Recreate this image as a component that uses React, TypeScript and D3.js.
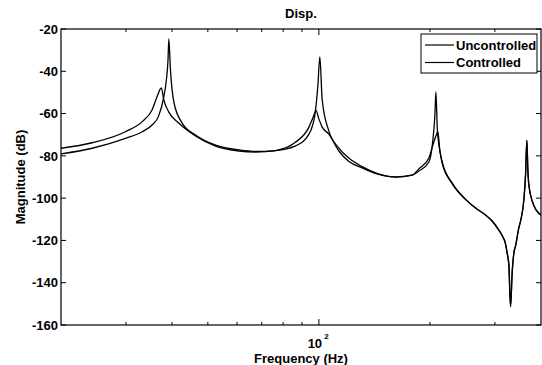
import * as d3 from "d3"

// Bode magnitude: [frequency Hz, magnitude dB]
const sharedTail: [number, number][] = [
  [249.8, -100.6], [266.0, -104.7], [283.0, -108.0], [294.9, -110.8],
  [307.4, -115.1], [313.8, -117.7], [320.6, -121.7], [323.8, -125.9],
  [327.3, -131.6], [330.8, -151.3], [334.1, -135.4], [337.7, -125.9],
  [341.3, -122.6], [348.3, -114.1], [352.7, -110.3], [359.4, -100.9],
  [363.2, -89.1], [366.2, -72.7], [368.5, -86.7], [370.8, -93.8],
  [382.6, -103.5], [400, -108.0],
]

const uncontrolled: [number, number][] = [
  [20, -79.1], [24.3, -76.4], [29.9, -71.7], [33.2, -68.6], [35.3, -65.4],
  [36.8, -61.1], [38.0, -52.0], [38.6, -44.1], [39.0, -34.7], [39.2, -24.7],
  [39.6, -39.4], [40.5, -55.0], [42.6, -64.5], [46.3, -70.1], [52.5, -74.9],
  [60.7, -77.2], [67.5, -77.9], [76.3, -77.5], [86.5, -75.3], [94.0, -69.7],
  [97.5, -60.7], [99.4, -46.5], [100.6, -33.2], [102.1, -53.6], [106.4, -68.2],
  [113.3, -76.3], [120.6, -81.0], [131.0, -85.1], [145.4, -88.6], [161.4, -89.9],
  [179.0, -89.1], [186.6, -87.2], [198.7, -82.9], [203.7, -72.5], [206.3, -60.7],
  [207.6, -49.8], [209.5, -67.8], [215.9, -82.9], [229.7, -92.8],
  ...sharedTail,
]

const controlled: [number, number][] = [
  [20, -76.4], [24.3, -73.8], [29.9, -68.6], [33.2, -63.8], [35.3, -58.3],
  [36.4, -52.2], [37.4, -47.9], [38.0, -53.6], [39.2, -59.3], [41.7, -64.5],
  [46.3, -70.6], [52.5, -75.4], [60.7, -77.7], [67.5, -78.2], [76.3, -77.5],
  [86.5, -73.5], [94.0, -66.4], [96.3, -62.1], [98.3, -58.6], [100, -62.5],
  [102.1, -66.4], [106.4, -69.7], [113.3, -77.7], [120.6, -82.7], [131.0, -85.7],
  [145.4, -88.8], [161.4, -90.1], [179.0, -89.1], [186.6, -86.2], [198.7, -81.0],
  [203.7, -74.9], [207.6, -70.6], [210.1, -68.6], [212.7, -77.2], [215.9, -83.4],
  [229.7, -93.1],
  ...sharedTail,
]

const yTicks = [-160, -140, -120, -100, -80, -60, -40, -20]
const xMinorTicks = [30, 40, 50, 60, 70, 80, 90, 200, 300]
const xMajorTicks = [100]
const legendLabels = ["Uncontrolled", "Controlled"]

const W = 542
const H = 365
const plot = { left: 61, right: 541, top: 29, bottom: 325 }
const font = "Liberation Sans, Arial, Helvetica, sans-serif"

export default function App() {
  const x = d3.scaleLog().domain([20, 400]).range([plot.left, plot.right])
  const y = d3.scaleLinear().domain([-160, -20]).range([plot.bottom, plot.top])

  const line = d3
    .line<[number, number]>()
    .x((d) => x(d[0]))
    .y((d) => y(d[1]))
    .curve(d3.curveMonotoneX)

  const lgX = 421
  const lgY = 34

  return (
    <svg
      width={W}
      height={H}
      style={{ position: "absolute", left: 0, top: 0, background: "#fff" }}
      fontFamily={font}
      fontWeight="bold"
    >
      <rect x={0} y={0} width={W} height={H} fill="#fff" />
      <defs>
        <clipPath id="plotClip">
          <rect x={plot.left} y={plot.top} width={plot.right - plot.left} height={plot.bottom - plot.top} />
        </clipPath>
      </defs>

      {/* curves */}
      <g clipPath="url(#plotClip)" fill="none" stroke="#000" strokeWidth={1.3}>
        <path d={line(uncontrolled) ?? ""} />
        <path d={line(controlled) ?? ""} />
      </g>

      {/* frame */}
      <rect
        x={plot.left}
        y={plot.top}
        width={plot.right - plot.left}
        height={plot.bottom - plot.top}
        fill="none"
        stroke="#000"
        strokeWidth={1.2}
      />

      {/* y ticks */}
      {yTicks.map((t) => (
        <g key={t}>
          <line x1={plot.left} x2={plot.left + 5} y1={y(t)} y2={y(t)} stroke="#000" />
          <line x1={plot.right - 5} x2={plot.right} y1={y(t)} y2={y(t)} stroke="#000" />
          <text x={plot.left - 3} y={y(t)} dy="0.36em" textAnchor="end" fontSize={13}>
            {t}
          </text>
        </g>
      ))}

      {/* x ticks */}
      {xMinorTicks.map((t) => (
        <g key={t}>
          <line x1={x(t)} x2={x(t)} y1={plot.bottom} y2={plot.bottom - 3} stroke="#000" />
          <line x1={x(t)} x2={x(t)} y1={plot.top} y2={plot.top + 3} stroke="#000" />
        </g>
      ))}
      {xMajorTicks.map((t) => (
        <g key={t}>
          <line x1={x(t)} x2={x(t)} y1={plot.bottom} y2={plot.bottom - 6} stroke="#000" />
          <line x1={x(t)} x2={x(t)} y1={plot.top} y2={plot.top + 6} stroke="#000" />
          <text x={x(t) - 4} y={347.5} textAnchor="middle" fontSize={13}>
            10
          </text>
          <text x={x(t) + 7.5} y={338.5} textAnchor="middle" fontSize={8}>
            {Math.round(Math.log10(t))}
          </text>
        </g>
      ))}

      {/* labels */}
      <text x={(plot.left + plot.right) / 2} y={18} textAnchor="middle" fontSize={13}>
        Disp.
      </text>
      <text x={(plot.left + plot.right) / 2} y={363} textAnchor="middle" fontSize={13}>
        Frequency (Hz)
      </text>
      <text
        transform={`translate(25,${(plot.top + plot.bottom) / 2}) rotate(-90)`}
        textAnchor="middle"
        fontSize={13}
      >
        Magnitude (dB)
      </text>

      {/* legend */}
      <rect x={lgX} y={lgY} width={116} height={39} fill="#fff" stroke="#000" strokeWidth={1} />
      {legendLabels.map((lab, i) => (
        <g key={lab}>
          <line x1={lgX + 4} x2={lgX + 33} y1={lgY + 11 + i * 17.5} y2={lgY + 11 + i * 17.5} stroke="#000" strokeWidth={1.2} />
          <text x={lgX + 35} y={lgY + 11 + i * 17.5} dy="0.36em" fontSize={13}>
            {lab}
          </text>
        </g>
      ))}
    </svg>
  )
}
